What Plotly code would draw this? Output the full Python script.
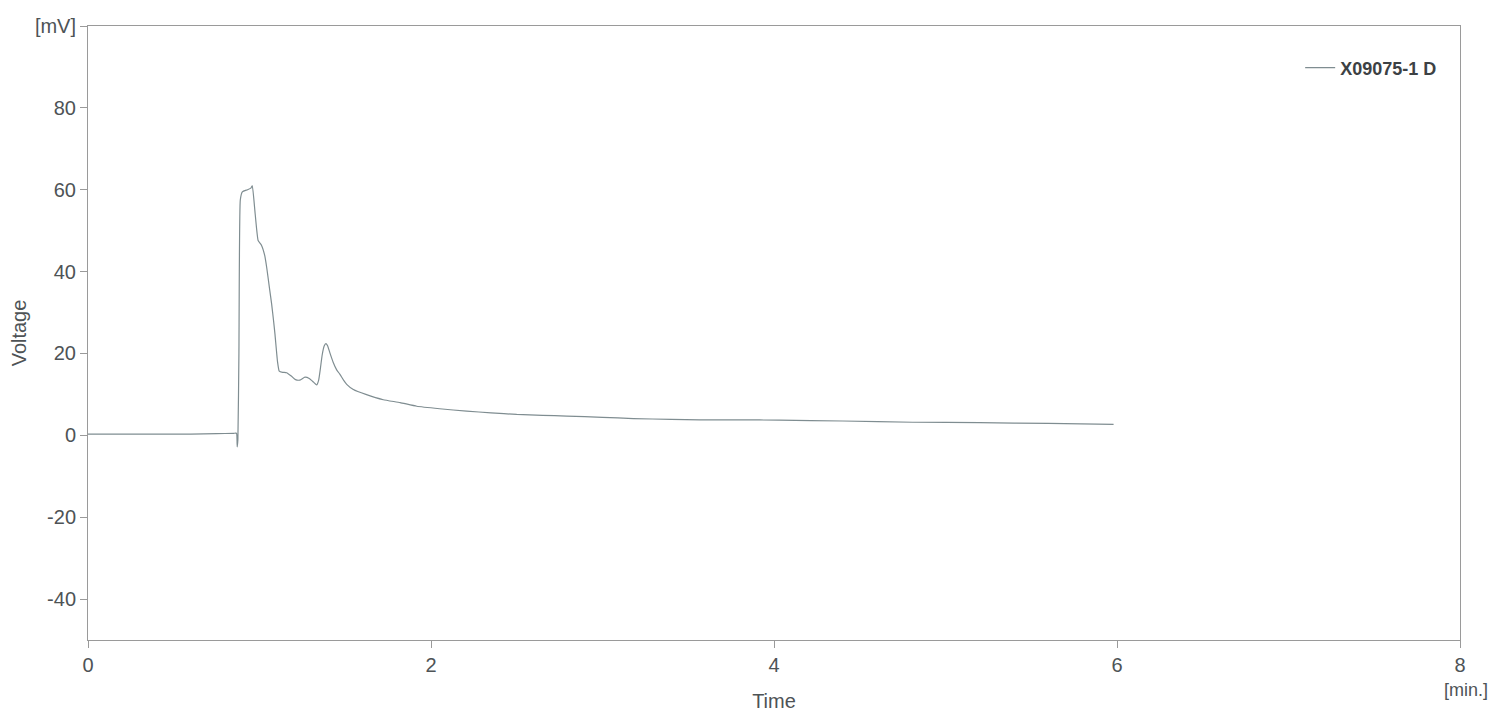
import plotly.graph_objects as go

# Detector trace X09075-1 D: time (min) and voltage (mV)
time_min = [0.00, 0.15, 0.30, 0.45, 0.60, 0.75, 0.85, 0.866, 0.870, 0.874, 0.880, 0.888,
            0.900, 0.930, 0.950, 0.958, 0.975, 0.992, 1.012, 1.030, 1.042, 1.058, 1.071,
            1.082, 1.090, 1.105, 1.115, 1.135, 1.158, 1.185, 1.210, 1.236, 1.265, 1.290,
            1.315, 1.333, 1.345, 1.355, 1.365, 1.377, 1.387, 1.397, 1.410, 1.430, 1.450,
            1.469, 1.490, 1.510, 1.547, 1.620, 1.722, 1.820, 1.917, 2.050, 2.208, 2.350,
            2.500, 2.650, 2.791, 3.000, 3.180, 3.400, 3.569, 3.800, 4.030, 4.400, 4.810,
            5.200, 5.600, 5.980]
voltage_mv = [0.3, 0.3, 0.3, 0.3, 0.3, 0.4, 0.5, 0.5, -2.8, -1.0, 20.0, 57.5,
              59.5, 60.0, 60.4, 61.0, 54.0, 47.6, 46.4, 44.0, 41.0, 36.0, 32.0,
              28.0, 24.8, 18.0, 15.7, 15.4, 15.3, 14.5, 13.6, 13.5, 14.2, 13.9,
              13.0, 12.3, 13.5, 16.3, 19.5, 21.8, 22.4, 21.9, 20.2, 17.8, 16.0,
              14.9, 13.5, 12.4, 11.2, 10.0, 8.7, 8.0, 7.1, 6.5, 5.9, 5.5,
              5.1, 4.9, 4.7, 4.4, 4.1, 3.9, 3.8, 3.8, 3.7, 3.5, 3.2,
              3.1, 2.9, 2.7]

x_ticks = [0, 2, 4, 6, 8]
y_ticks = [-40, -20, 0, 20, 40, 60, 80, 100]
y_tick_text = ["-40", "-20", "0", "20", "40", "60", "80", "[mV]"]

text_color = "#4e5356"
axis_color = "#9a9a9a"
font_family = "Liberation Sans, Arial, sans-serif"

fig = go.Figure()
fig.add_trace(go.Scatter(
    x=time_min, y=voltage_mv, mode="lines", name="X09075-1 D",
    line=dict(color="#7f8d91", width=1.2, shape="spline", smoothing=0.4),
))

fig.update_layout(
    width=1503, height=714,
    margin=dict(l=88, r=43, t=26, b=74, autoexpand=False),
    paper_bgcolor="white", plot_bgcolor="white",
    font=dict(family=font_family, size=20, color=text_color),
    showlegend=True,
    legend=dict(
        x=0.987, y=0.962, xanchor="right", yanchor="top",
        bgcolor="rgba(0,0,0,0)",
        font=dict(size=18, color="#3c4144", family=font_family, weight="bold"),
    ),
    xaxis=dict(
        range=[0, 8], tickvals=x_ticks, ticktext=[str(v) for v in x_ticks],
        showgrid=False, zeroline=False, automargin=False,
        showline=True, linecolor=axis_color, linewidth=1, mirror=True,
        ticks="outside", ticklen=7, tickcolor=axis_color,
        title=dict(text="Time", font=dict(size=20), standoff=18),
        tickfont=dict(size=20),
    ),
    yaxis=dict(
        range=[-50, 100], tickvals=y_ticks, ticktext=y_tick_text,
        showgrid=False, zeroline=False, automargin=False,
        showline=True, linecolor=axis_color, linewidth=1, mirror=True,
        ticks="outside", ticklen=7, tickcolor=axis_color,
        title=dict(text="Voltage", font=dict(size=20), standoff=2),
        tickfont=dict(size=20),
    ),
)

# Unit label under the last time tick
fig.add_annotation(
    x=8, xref="x", y=0, yref="paper", yanchor="top", yshift=-38, xshift=6,
    text="[min.]", showarrow=False, font=dict(size=18, color=text_color),
)

fig.write_html("out.html")
